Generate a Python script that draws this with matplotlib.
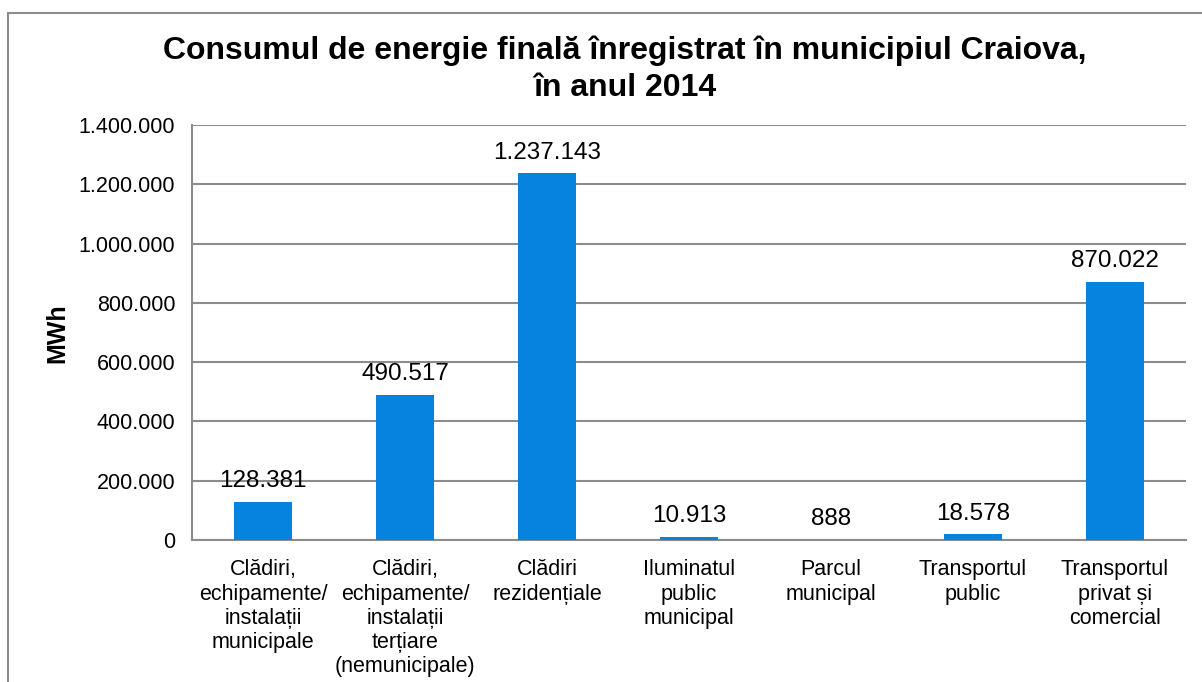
import matplotlib
matplotlib.use("Agg")
import matplotlib.pyplot as plt
from matplotlib.patches import Rectangle
from matplotlib.ticker import FuncFormatter

categories = [
    "Clădiri,\nechipamente/\ninstalații\nmunicipale",
    "Clădiri,\nechipamente/\ninstalații\nterțiare\n(nemunicipale)",
    "Clădiri\nrezidențiale",
    "Iluminatul\npublic\nmunicipal",
    "Parcul\nmunicipal",
    "Transportul\npublic",
    "Transportul\nprivat și\ncomercial",
]
values = [128381, 490517, 1237143, 10913, 888, 18578, 870022]
yticks = [0, 200000, 400000, 600000, 800000, 1000000, 1200000, 1400000]
title = "Consumul de energie finală înregistrat în municipiul Craiova,\nîn anul 2014"
ylabel = "MWh"

def fmt(v):
    return f"{int(v):,}".replace(",", ".")

plt.rcParams['font.family'] = ['Liberation Sans', 'DejaVu Sans']

W, H = 1202, 682
fig = plt.figure(figsize=(W / 100, H / 100), dpi=100)
fig.patch.set_facecolor("white")

# outer frame (cropped on right and bottom)
fig.add_artist(Rectangle((8 / W, -0.05), 1.2, 1 - 13 / H + 0.05,
                         transform=fig.transFigure, fill=False,
                         edgecolor="#8c8c8c", linewidth=1.5))

left, right, top, bottom = 192, 1186, 125, 540
ax = fig.add_axes([left / W, 1 - bottom / H, (right - left) / W, (bottom - top) / H])

x = range(len(categories))
bars = ax.bar(x, values, width=0.415, color="#0683DE", zorder=3)
ax.set_xlim(-0.5, len(categories) - 0.5)
ax.set_ylim(0, 1400000)
ax.set_yticks(yticks)
ax.yaxis.set_major_formatter(FuncFormatter(lambda v, p: fmt(v)))
ax.grid(axis="y", color="#8c8c8c", linewidth=1.5, zorder=0)
ax.set_axisbelow(True)

for s in ["top", "right"]:
    ax.spines[s].set_visible(False)
ax.spines["left"].set_color("#8c8c8c")
ax.spines["left"].set_linewidth(1.5)
ax.spines["bottom"].set_color("#8c8c8c")
ax.spines["bottom"].set_linewidth(1.5)

ax.tick_params(axis="y", length=0, pad=12, labelsize=15.5, colors="black")
ax.tick_params(axis="x", length=0, pad=14)
ax.set_xticks(list(x))
ax.set_xticklabels(categories, fontsize=15.5, linespacing=1.2, va="top")

for xi, v in zip(x, values):
    ax.annotate(fmt(v), (xi, v), xytext=(0, 7), textcoords="offset points",
                ha="center", va="bottom", fontsize=17.5, color="black")

fig.text(624.5 / W, 1 - 69 / H, title, ha="center", va="center",
         fontsize=23, fontweight="bold", linespacing=1.3)
fig.text(57 / W, 1 - 333 / H, ylabel, rotation=90, ha="center", va="center",
         fontsize=18, fontweight="bold")

fig.savefig("out.png", dpi=100, facecolor="white")
